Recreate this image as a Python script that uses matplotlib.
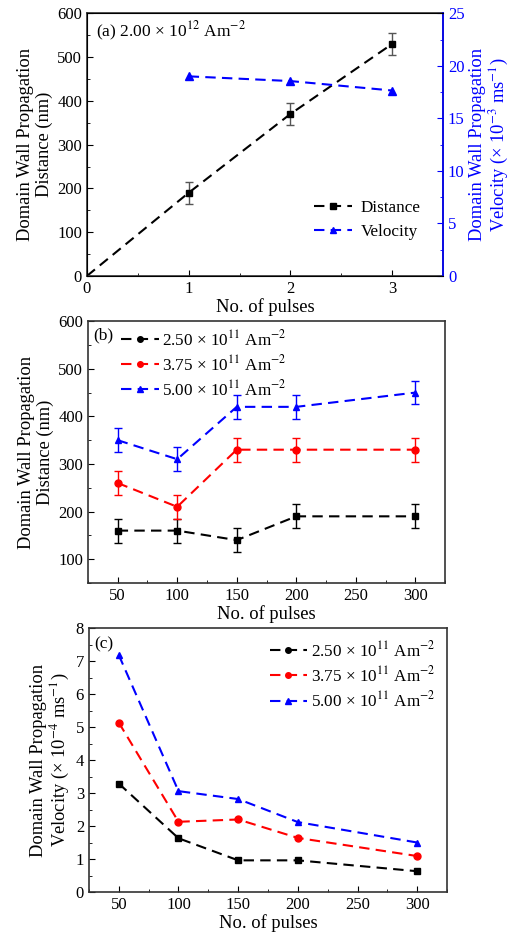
import matplotlib
matplotlib.use("Agg")
import matplotlib.pyplot as plt
from matplotlib.lines import Line2D
from matplotlib.ticker import MultipleLocator

plt.rcParams['font.family'] = ['Liberation Serif', 'DejaVu Serif']
plt.rcParams['mathtext.fontset'] = 'stix'

# ---- data panel (a)
pulses_a = [0, 1, 2, 3]
distance_a = [0, 190, 370, 530]
distance_err_a = [0, 25, 25, 25]
vel_pulses_a = [1, 2, 3]
velocity_a = [19.0, 18.55, 17.65]

# ---- data panel (b) and (c)
pulses_bc = [50, 100, 150, 200, 300]
labels_bc = [r'2.50 × 10$^{11}$ Am$^{-2}$', r'3.75 × 10$^{11}$ Am$^{-2}$', r'5.00 × 10$^{11}$ Am$^{-2}$']
dist_b = [[160, 160, 140, 190, 190],
          [260, 210, 330, 330, 330],
          [350, 310, 420, 420, 450]]
dist_err_b = [25, 25, 25, 25, 25]
vel_c = [[3.29, 1.63, 0.96, 0.96, 0.63],
         [5.14, 2.13, 2.20, 1.64, 1.09],
         [7.19, 3.06, 2.82, 2.12, 1.50]]

colors = ['black', '#FF0000', '#0000FF']
markers = ['s', 'o', '^']
leg_markers = ['o', 'o', '^']
dashes = (5, 3)

fig = plt.figure(figsize=(5.14, 9.35), dpi=100)

LBL = 13.3
TCK = 12
LEG = 12.3

def style(ax):
    ax.tick_params(direction='in', which='both', labelsize=TCK, top=False, right=False)
    ax.tick_params(which='major', length=4)
    ax.tick_params(which='minor', length=2.5)
    for s in ax.spines.values():
        s.set_linewidth(1.2)
        s.set_color('#333333')

# ---- (a)
axa = fig.add_axes([0.169, 0.7048, 0.693, 0.281])
axa.errorbar(pulses_a, distance_a, yerr=distance_err_a, color='black', ls='--', dashes=dashes,
             lw=1.5, marker='s', ms=5, markevery=[1, 2, 3], ecolor='#555555', elinewidth=1,
             capsize=3, label='Distance')
axa.set_xlim(0, 3.5)
axa.set_ylim(0, 600)
axa.xaxis.set_major_locator(MultipleLocator(1))
axa.xaxis.set_minor_locator(MultipleLocator(0.5))
axa.yaxis.set_major_locator(MultipleLocator(100))
axa.yaxis.set_minor_locator(MultipleLocator(50))
style(axa)
axa.set_xlabel('No. of pulses', fontsize=LBL, labelpad=1)
axa.set_ylabel('Domain Wall Propagation\nDistance (nm)', fontsize=LBL, labelpad=3, linespacing=1.1)
axa.text(0.025, 0.93, r'(a) 2.00 × 10$^{12}$ Am$^{-2}$', transform=axa.transAxes, fontsize=12.5,
         va='center', ha='left')

axr = axa.twinx()
axr.plot(vel_pulses_a, velocity_a, color='#0000FF', ls='--', dashes=dashes, lw=1.5,
         marker='^', ms=5.5, label='Velocity')
axr.set_ylim(0, 25)
axr.yaxis.set_major_locator(MultipleLocator(5))
axr.yaxis.set_minor_locator(MultipleLocator(2.5))
axr.tick_params(direction='in', which='both', labelsize=TCK, colors='#0000FF')
axr.tick_params(which='major', length=4)
axr.tick_params(which='minor', length=2.5)
axr.spines['right'].set_color('#0000FF')
axr.spines['right'].set_linewidth(1.2)
axr.set_ylabel('Domain Wall Propagation\nVelocity (× 10$^{-3}$ ms$^{-1}$)', fontsize=LBL,
               color='#0000FF', labelpad=3, linespacing=1.1)
h1 = [Line2D([], [], color='black', ls='--', dashes=dashes, lw=1.5, marker='s', ms=4.5),
      Line2D([], [], color='#0000FF', ls='--', dashes=dashes, lw=1.5, marker='^', ms=5)]
axr.legend(h1, ['Distance', 'Velocity'], loc='lower right', bbox_to_anchor=(0.98, 0.08),
           frameon=False, fontsize=LEG, handlelength=2.2, handletextpad=0.5, labelspacing=0.45)

# ---- (b)
axb = fig.add_axes([0.171, 0.3765, 0.695, 0.280])
for i in range(3):
    axb.errorbar(pulses_bc, dist_b[i], yerr=dist_err_b, color=colors[i], ls='--', dashes=dashes,
                 lw=1.5, marker=markers[i], ms=5, elinewidth=1, capsize=3, ecolor=colors[i])
axb.set_xlim(25, 325)
axb.set_ylim(50, 600)
axb.xaxis.set_major_locator(MultipleLocator(50))
axb.xaxis.set_minor_locator(MultipleLocator(25))
axb.yaxis.set_minor_locator(MultipleLocator(50))
axb.set_yticks([100, 200, 300, 400, 500, 600])
style(axb)
axb.set_xlabel('No. of pulses', fontsize=LBL, labelpad=1)
axb.set_ylabel('Domain Wall Propagation\nDistance (nm)', fontsize=LBL, labelpad=3, linespacing=1.1)
axb.text(0.015, 0.945, '(b)', transform=axb.transAxes, fontsize=12.5, va='center', ha='left')
hb = [Line2D([], [], color=colors[i], ls='--', dashes=dashes, lw=1.5, marker=leg_markers[i], ms=4)
      for i in range(3)]
axb.legend(hb, labels_bc, loc='upper left', bbox_to_anchor=(0.06, 1.015), frameon=False,
           fontsize=LEG, handlelength=2.2, handletextpad=0.2, labelspacing=0.3, borderaxespad=0.3)

# ---- (c)
axc = fig.add_axes([0.173, 0.046, 0.697, 0.282])
for i in range(3):
    axc.plot(pulses_bc, vel_c[i], color=colors[i], ls='--', dashes=dashes, lw=1.5,
             marker=markers[i], ms=5)
axc.set_xlim(25, 325)
axc.set_ylim(0, 8)
axc.xaxis.set_major_locator(MultipleLocator(50))
axc.xaxis.set_minor_locator(MultipleLocator(25))
axc.yaxis.set_major_locator(MultipleLocator(1))
axc.yaxis.set_minor_locator(MultipleLocator(0.5))
style(axc)
axc.set_xlabel('No. of pulses', fontsize=LBL, labelpad=1)
axc.set_ylabel('Domain Wall Propagation\nVelocity (× 10$^{-4}$ ms$^{-1}$)', fontsize=LBL,
               labelpad=3, linespacing=1.1)
axc.text(0.015, 0.94, '(c)', transform=axc.transAxes, fontsize=12.5, va='center', ha='left')
hc = [Line2D([], [], color=colors[i], ls='--', dashes=dashes, lw=1.5, marker=leg_markers[i], ms=4)
      for i in range(3)]
axc.legend(hc, labels_bc, loc='upper right', bbox_to_anchor=(1.0, 1.0), frameon=False,
           fontsize=LEG, handlelength=2.2, handletextpad=0.2, labelspacing=0.3, borderaxespad=0.3)

fig.savefig('out.png', dpi=100)
